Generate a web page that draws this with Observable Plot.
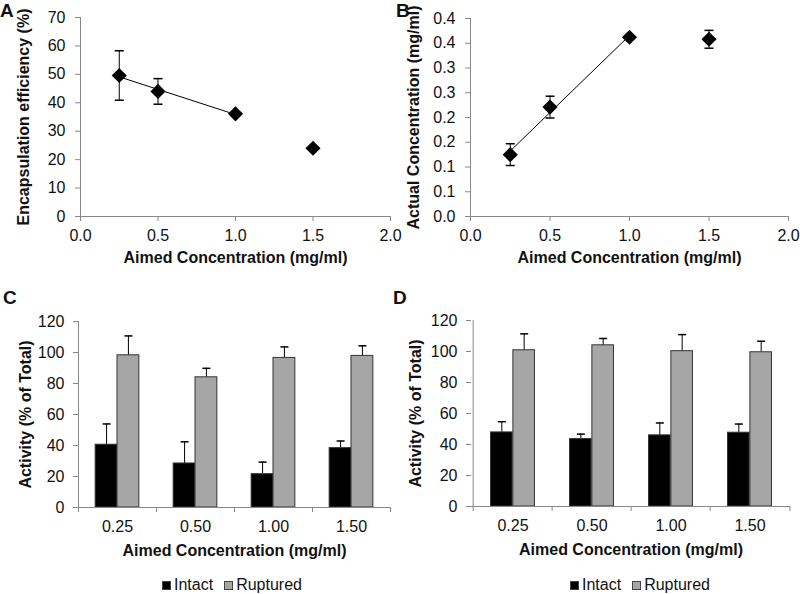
<!DOCTYPE html>
<html><head><meta charset="utf-8">
<script src="https://cdn.jsdelivr.net/npm/d3@7"></script>
<script src="https://cdn.jsdelivr.net/npm/@observablehq/plot@0.6"></script>
<style>
body{margin:0;background:#fff;}
#fig{position:relative;width:800px;height:594px;background:#fff;font-family:"Liberation Sans",Arial,sans-serif;color:#111;overflow:hidden}
.panel{position:absolute}
.letter{position:absolute;font-weight:bold;font-size:19px;line-height:19px}
.legend{position:absolute;font-size:16px;line-height:18px;display:flex;align-items:center;white-space:nowrap}
.sw{display:inline-block;width:9px;height:9px;margin-right:3px;box-sizing:border-box}
svg g[aria-label="x-axis label"], svg g[aria-label="y-axis label"]{font-weight:bold}
svg g[aria-label="x-axis tick"], svg g[aria-label="y-axis tick"]{stroke:#888}
</style></head>
<body><div id="fig"></div>
<script>
// ---------- data ----------
const concA = [0.25, 0.5, 1.0, 1.5];
const efficiencyA = [49.6, 44.0, 36.1, 24.0];
const efficiencyErrA = [8.7, 4.5, 0, 0];
const inTrend = [true, true, true, false];
const actualB = [0.125, 0.221, 0.362, 0.358];
const actualErrB = [0.022, 0.022, 0, 0.018];
const xTicksAB = [0, 0.5, 1.0, 1.5, 2.0];
const yTicksA = [0, 10, 20, 30, 40, 50, 60, 70];
const yTicksB = [0, 0.05, 0.10, 0.15, 0.20, 0.25, 0.30, 0.35, 0.40];
const yTickLabelsB = ["0.0", "0.1", "0.1", "0.2", "0.2", "0.3", "0.3", "0.4", "0.4"];

const concLabels = ["0.25", "0.50", "1.00", "1.50"];
const series = ["Intact", "Ruptured"];
const seriesColors = ["#000000", "#a6a6a6"];
const intactC = [40.5, 28.4, 21.5, 38.3];
const intactErrC = [13.4, 14.0, 7.8, 4.6];
const rupturedC = [98.2, 84.0, 96.5, 97.8];
const rupturedErrC = [12.5, 5.8, 7.1, 6.5];
const intactD = [47.8, 43.5, 45.9, 47.6];
const intactErrD = [6.9, 3.2, 8.0, 5.6];
const rupturedD = [100.8, 104.0, 100.2, 99.5];
const rupturedErrD = [10.6, 4.4, 10.7, 7.1];
const yTicksCD = [0, 20, 40, 60, 80, 100, 120];

const xTitle = "Aimed Concentration (mg/ml)";
const ff = '"Liberation Sans", Arial, sans-serif';
const fig = document.getElementById("fig");

// horizontal error-bar cap symbol
const cap = {draw(ctx, size) { const h = Math.sqrt(size / Math.PI); ctx.moveTo(-h, 0); ctx.lineTo(h, 0); }};

function place(node, left, top) {
  node.classList.add("panel");
  node.style.left = left + "px";
  node.style.top = top + "px";
  fig.appendChild(node);
}

function scatter({x, y, err, yDomain, yTicks, yFormat, yLabel, marginLeft, marginRight, marginTop, yLabelOffset}) {
  const rows = x.map((c, i) => ({c, v: y[i], e: err[i], fit: inTrend[i]}));
  const withErr = rows.filter(d => d.e > 0);
  return Plot.plot({
    width: 400, height: 280, marginLeft, marginRight, marginTop, marginBottom: 64,
    style: {fontFamily: ff, fontSize: "16px", color: "#111", background: "transparent", overflow: "visible"},
    x: {domain: [0, 2]},
    y: {domain: yDomain},
    marks: [
      Plot.ruleY([0], {stroke: "#888"}),
      Plot.ruleX([0], {stroke: "#888"}),
      Plot.axisX({ticks: xTicksAB, tickFormat: d => d.toFixed(1), tickSize: 5, tickPadding: 8,
        label: xTitle, labelAnchor: "center", labelArrow: "none", labelOffset: 46}),
      Plot.axisY({ticks: yTicks, tickFormat: yFormat, tickSize: 5, tickPadding: 10,
        label: yLabel, labelAnchor: "center", labelArrow: "none", labelOffset: yLabelOffset}),
      Plot.linearRegressionY(rows.filter(d => d.fit), {x: "c", y: "v", ci: 0, stroke: "#000", strokeWidth: 1}),
      Plot.ruleX(withErr, {x: "c", y1: d => d.v - d.e, y2: d => d.v + d.e, stroke: "#000"}),
      Plot.dot(withErr, {x: "c", y: d => d.v + d.e, symbol: cap, r: 4.5, fill: "none", stroke: "#000"}),
      Plot.dot(withErr, {x: "c", y: d => d.v - d.e, symbol: cap, r: 4.5, fill: "none", stroke: "#000"}),
      Plot.dot(rows, {x: "c", y: "v", symbol: "diamond2", r: 6.8, fill: "#000", stroke: "none"})
    ]
  });
}

function bars({intact, intactErr, ruptured, ruptErr, marginLeft, marginTop, marginBottom, yLabelOffset}) {
  const rows = [];
  concLabels.forEach((c, i) => {
    rows.push({c, s: series[0], v: intact[i], e: intactErr[i]});
    rows.push({c, s: series[1], v: ruptured[i], e: ruptErr[i]});
  });
  const W = 400, mr = 10;
  const bw = (W - marginLeft - mr) / concLabels.length;
  const outer = bw * 0.22, mid = bw * 0.5, off = bw * 0.14;
  const of = s => rows.filter(d => d.s === s);
  const errMarks = (s, dx) => [
    Plot.ruleX(of(s), {x: "c", y1: "v", y2: d => d.v + d.e, dx, stroke: "#000"}),
    Plot.dot(of(s), {x: "c", y: d => d.v + d.e, dx, symbol: cap, r: 4, fill: "none", stroke: "#000"})
  ];
  return Plot.plot({
    width: W, height: 280, marginLeft, marginRight: mr, marginTop, marginBottom,
    style: {fontFamily: ff, fontSize: "16px", color: "#111", background: "transparent", overflow: "visible"},
    x: {domain: concLabels, padding: 0},
    y: {domain: [0, 120]},
    color: {domain: series, range: seriesColors},
    marks: [
      ...errMarks(series[0], -off),
      ...errMarks(series[1], off),
      Plot.barY(of(series[0]), {x: "c", y: "v", fill: "s", stroke: "#333", strokeWidth: 1, insetLeft: outer, insetRight: mid}),
      Plot.barY(of(series[1]), {x: "c", y: "v", fill: "s", stroke: "#333", strokeWidth: 1, insetLeft: mid, insetRight: outer}),
      Plot.ruleY([0], {stroke: "#888"}),
      Plot.ruleX(concLabels.slice(0, 1), {x: d => d, dx: -bw / 2, stroke: "#888"}),
      Plot.axisX({tickSize: 5, tickFormat: () => "", dx: -bw / 2, label: null, stroke: "#888"}),
      Plot.axisX({ticks: concLabels.slice(-1), tickSize: 5, tickFormat: () => "", dx: bw / 2, label: null, stroke: "#888"}),
      Plot.axisX({tickSize: 0, tickPadding: 13, label: xTitle, labelAnchor: "center", labelArrow: "none", labelOffset: 48}),
      Plot.axisY({ticks: yTicksCD, tickSize: 5, tickPadding: 9, label: "Activity (% of Total)", labelAnchor: "center", labelArrow: "none", labelOffset: yLabelOffset})
    ]
  });
}

place(scatter({x: concA, y: efficiencyA, err: efficiencyErrA, yDomain: [0, 70], yTicks: yTicksA,
  yFormat: d => String(d), yLabel: "Encapsulation efficiency (%)", marginLeft: 80, marginRight: 10, marginTop: 17, yLabelOffset: 63}), 0, 0);
place(scatter({x: concA, y: actualB, err: actualErrB, yDomain: [0, 0.4], yTicks: yTicksB,
  yFormat: d => yTickLabelsB[yTicksB.indexOf(d)], yLabel: "Actual Concentration (mg/ml)", marginLeft: 70, marginRight: 12, marginTop: 18, yLabelOffset: 63}), 400, 0);
place(bars({intact: intactC, intactErr: intactErrC, ruptured: rupturedC, ruptErr: rupturedErrC,
  marginLeft: 78, marginTop: 41, marginBottom: 53, yLabelOffset: 59}), 0, 280);
place(bars({intact: intactD, intactErr: intactErrD, ruptured: rupturedD, ruptErr: rupturedErrD,
  marginLeft: 71, marginTop: 40, marginBottom: 54, yLabelOffset: 62}), 400, 280);

// panel letters
[["A", 0, 1], ["B", 396, 1], ["C", 3, 288], ["D", 393, 288]].forEach(([t, l, tp]) => {
  const d = document.createElement("div");
  d.className = "letter"; d.textContent = t;
  d.style.left = l + "px"; d.style.top = tp + "px";
  fig.appendChild(d);
});

// legends
[162, 570].forEach(left => {
  const lg = document.createElement("div");
  lg.className = "legend";
  lg.style.left = left + "px"; lg.style.top = "576px";
  series.forEach((s, i) => {
    const sw = document.createElement("span");
    sw.className = "sw";
    sw.style.background = seriesColors[i];
    sw.style.border = "1px solid #444";
    if (i > 0) sw.style.marginLeft = "11px";
    const tx = document.createElement("span");
    tx.textContent = s;
    lg.appendChild(sw); lg.appendChild(tx);
  });
  fig.appendChild(lg);
});
</script>
</body></html>
